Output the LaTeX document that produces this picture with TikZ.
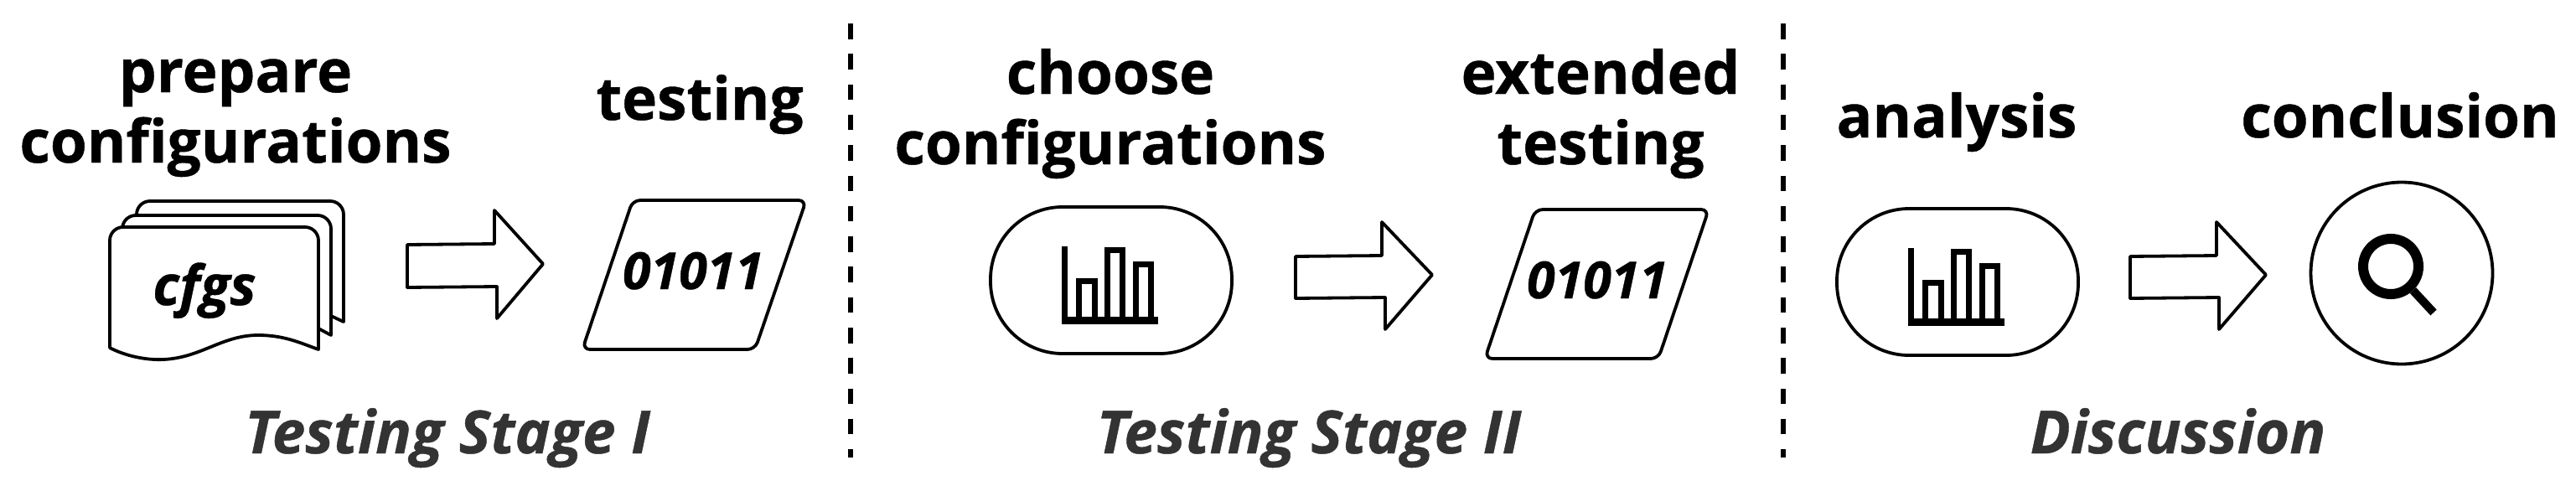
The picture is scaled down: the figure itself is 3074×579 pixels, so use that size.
\documentclass[tikz,border=0pt]{standalone}
\usepackage{fontspec}
\setmainfont[BoldFeatures={FakeBold=0.6},BoldItalicFeatures={FakeBold=0.6}]{Open Sans}
\tikzset{
  lab/.style={inner sep=0pt,anchor=base,text=black,font=\fontsize{71}{84}\selectfont\bfseries},
  stagelab/.style={inner sep=0pt,anchor=base,text=black!80,font=\fontsize{71}{80}\selectfont\bfseries\itshape},
  data/.style={inner sep=0pt,anchor=base,text=black,font=\fontsize{61}{70}\selectfont\bfseries\itshape},
  outline/.style={draw=black,line width=3.8pt,fill=white,line join=round},
  stadium/.style={draw=black,line width=3.8pt,minimum width=288pt,minimum height=175pt,rounded corners=86pt,inner sep=0pt},
  sep/.style={draw=black,line width=6.5pt,dash pattern=on 18.5pt off 17.8pt},
  icon/.style={draw=black,line width=7pt,line join=miter}
}
\newcommand{\barsicon}[2]{%
  \begin{scope}[shift={(#1,#2)}]
    \draw[icon] (3.5,0) -- (3.5,88);
    \draw[black,line width=9pt] (0,88) -- (115,88);
    \draw[icon] (20.5,84) -- (20.5,41) -- (39.5,41) -- (39.5,84);
    \draw[icon] (54.5,84) -- (54.5,4) -- (72.5,4) -- (72.5,84);
    \draw[icon] (88.5,84) -- (88.5,21) -- (106.5,21) -- (106.5,84);
  \end{scope}}
\begin{document}
\begin{tikzpicture}[x=1pt,y=-1pt]
\useasboundingbox (0,0) rectangle (3074,579);
% separators
\coordinate (s1a) at (1015,28); \coordinate (s1b) at (1015,546);
\coordinate (s2a) at (2128,28); \coordinate (s2b) at (2128,546);
\draw[sep] (s1a) -- (s1b);
\draw[sep] (s2a) -- (s2b);
% labels
\node[lab] (l1) at (281,110) {prepare};
\node[lab] (l2) at (281,194) {configurations};
\node[lab] (l3) at (835,143) {testing};
\node[lab] (l4) at (1325,112) {choose};
\node[lab] (l5) at (1325,196) {configurations};
\node[lab] (l6) at (1910,112) {extended};
\node[lab] (l7) at (1910,196) {testing};
\node[lab] (l8) at (2335,164) {analysis};
\node[lab] (l9) at (2864,164) {conclusion};
\node[stagelab] (g1) at (534,541) {Testing Stage I};
\node[stagelab] (g2) at (1562,541) {Testing Stage II};
\node[stagelab] (g3) at (2599,541) {Discussion};
% document stack
\draw[outline,rounded corners=16pt] (163,384) -- (163,240) -- (410,240) -- (410,384);
\draw[outline] (380,370) -- (410,384) -- (410,300);
\draw[outline,rounded corners=16pt] (146,400) -- (146,257) -- (395,257) -- (395,400);
\draw[outline] (395,290) -- (395,400) -- (380,392);
\draw[outline,rounded corners=16pt] (131,340) -- (131,271) -- (380,271) -- (380,340);
\draw[outline] (131,330) -- (131,415)
  .. controls (150,425) and (175,430) .. (195,429)
  .. controls (240,427) and (265,400) .. (308,400)
  .. controls (340,400) and (360,410) .. (380,417) -- (380,330);
\node[data,font=\fontsize{66}{70}\selectfont\bfseries\itshape] (cf) at (244,364) {cfgs};
% arrow 1
\draw[outline] (486,292) -- (590,291) -- (590,251) -- (648,315) -- (593,380) -- (593,342) -- (486,343) -- cycle;
% para 1
\draw[outline,rounded corners=9pt] (755,239) -- (962,239) -- (901,417) -- (695,417) -- cycle;
\node[data] (d1) at (827,345) {01011};
% stadium 2
\node[stadium] (st1) at (1326,334.5) {};
\barsicon{1267}{294}
% arrow 2
\draw[outline] (1546,306) -- (1649,305) -- (1649,265) -- (1709,328) -- (1653,393) -- (1653,355) -- (1546,356) -- cycle;
% para 2
\draw[outline,rounded corners=9pt] (1832,250) -- (2039,250) -- (1979,428) -- (1772,428) -- cycle;
\node[data] (d2) at (1906,356) {01011};
% stadium 3
\node[stadium] (st2) at (2336,336.5) {};
\barsicon{2277}{296}
% arrow 3
\draw[outline] (2542,306) -- (2645,305) -- (2645,265) -- (2704,328) -- (2648,393) -- (2648,355) -- (2542,356) -- cycle;
% circle
\node[circle,draw=black,line width=3.8pt,minimum size=217pt,inner sep=0pt] (cc) at (2866,326) {};
\node[circle,draw=black,line width=12pt,minimum size=66pt,inner sep=0pt] (mg) at (2853,318) {};
\draw[black,line width=10pt] (mg) -- (2904,373);
\end{tikzpicture}
\end{document}
